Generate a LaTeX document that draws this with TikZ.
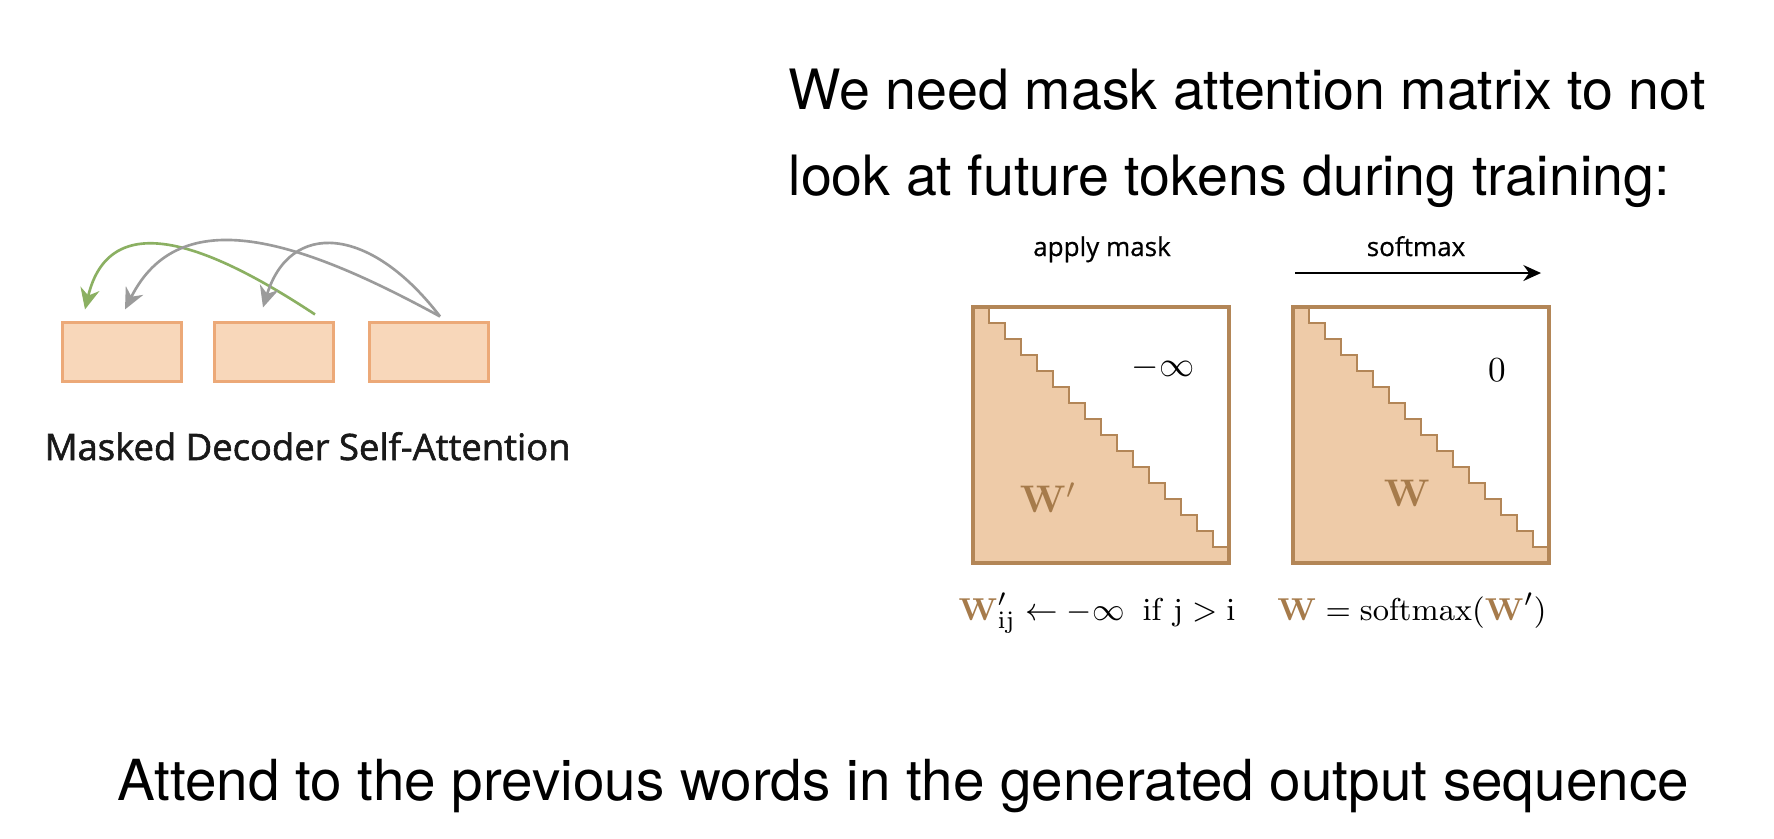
\documentclass[tikz,border=0pt]{standalone}
\usepackage[no-math]{fontspec}
\setmainfont{TeX Gyre Heros}
\newfontfamily\uifont[FakeBold=0.6]{Open Sans}
\newfontfamily\capfont[FakeBold=1.6]{Open Sans}
\usetikzlibrary{calc,arrows.meta}
\tikzset{>={Stealth[length=5pt,width=4.5pt]}}
\definecolor{boxfill}{HTML}{F8D7BA}
\definecolor{boxline}{HTML}{ECA978}
\definecolor{matfill}{HTML}{EECBA8}
\definecolor{matline}{HTML}{B38657}
\definecolor{wbrown}{HTML}{A67B4B}
\definecolor{attgreen}{HTML}{8BB062}
\definecolor{attgrey}{HTML}{9B9B9B}
\tikzset{
  tok/.style={draw=boxline,fill=boxfill,line width=0.6pt,minimum width=1.19cm,minimum height=0.59cm,inner sep=0pt},
  big/.style={font=\fontsize{16}{19}\selectfont,inner sep=0pt,anchor=base west},
  ui/.style={font=\uifont\fontsize{7.4}{9}\selectfont,inner sep=0pt,anchor=base},
  sym/.style={font=\fontsize{10}{12}\selectfont,inner sep=0pt},
  rule/.style={font=\fontsize{9.5}{11}\selectfont,inner sep=0pt,anchor=base},
  att/.style={-{Stealth[length=6pt,width=5.5pt]},line width=0.75pt}
}

\begin{document}
\begin{tikzpicture}[x=0.01cm,y=-0.01cm]
\fill[white] (0,0) rectangle (1774,838);
\node[big,font=\fontsize{15.8}{19}\selectfont] (need1) at (788,109) {We need mask attention matrix to not};
\node[big,font=\fontsize{15.8}{19}\selectfont] (need2) at (788,195) {look at future tokens during training:};
\node[big,font=\fontsize{16.1}{19}\selectfont] (attend) at (117,800) {Attend to the previous words in the generated output sequence};

\node[tok] (t1) at (122,352) {};
\node[tok] (t2) at (274,352) {};
\node[tok] (t3) at (429,352) {};
\node[anchor=base west,inner sep=0pt,font=\capfont\fontsize{10.35}{12}\selectfont,text=black!90] (cap) at (44,460) {Masked Decoder Self-Attention};
\draw[att,attgreen] ($(t2.north)+(41,-7)$) .. controls (210,245) and (110,205) .. ($(t1.north)+(-37,-12)$);
\draw[att,attgrey] ($(t3.north)+(11,-5)$) .. controls (300,240) and (180,200) .. ($(t1.north)+(3,-12)$);
\draw[att,attgrey] ($(t3.north)+(11,-5)$) .. controls (370,225) and (290,220) .. ($(t2.north)+(-11,-14)$);

\node[ui] (mask) at (1102,256) {apply mask};
\node[ui] (soft) at (1416,256) {softmax};
\coordinate (s0) at (1295,273);
\coordinate (s1) at (1541,273);
\draw[->,line width=0.75pt] (s0) -- (s1);
\foreach \mx in {973,1293} {
  \begin{scope}[shift={(\mx,307)}]
    \filldraw[fill=matfill,draw=matline,line width=0.65pt] (0,0) \foreach \k in {1,...,15} { -- (16*\k,16*\k-16) -- (16*\k,16*\k) } -- (256,240) -- (256,256) -- (0,256) -- cycle;
    \draw[matline,line width=1.1pt] (0,0) rectangle (256,256);
  \end{scope}
}
\node[sym] (minf) at (1163,368) {$-\infty$};
\node[sym] (zero) at (1497,370) {$0$};
\node[sym,text=wbrown,font=\fontsize{11}{13}\selectfont] (wl) at (1048,498) {$\mathbf{W}'$};
\node[sym,text=wbrown,font=\fontsize{11}{13}\selectfont] (wr) at (1407,493) {$\mathbf{W}$};
\node[rule] (ruleL) at (1097,620) {${\color{wbrown}\mathbf{W}}'_{\mathrm{ij}} \leftarrow -\infty \;\; \mathrm{if}\; \mathrm{j} > \mathrm{i}$};
\node[rule] (ruleR) at (1412,620) {${\color{wbrown}\mathbf{W}} = \mathrm{softmax}({\color{wbrown}\mathbf{W}}')$};
\end{tikzpicture}
\end{document}
